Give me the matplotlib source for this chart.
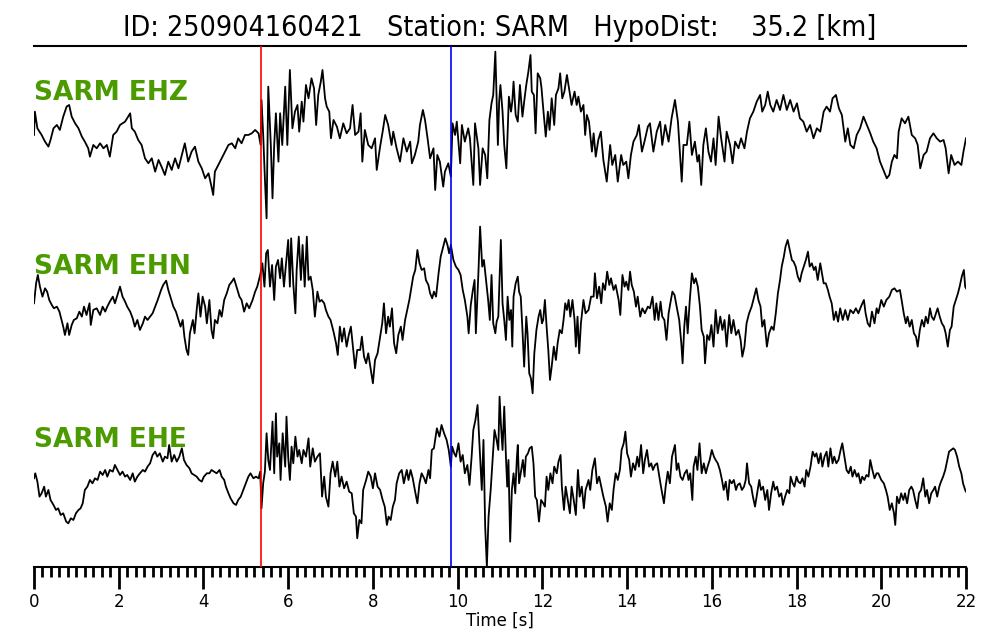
import matplotlib
matplotlib.use("Agg")
import matplotlib.pyplot as plt
from matplotlib.ticker import MultipleLocator

# ---------------- data (time [s], amplitude [counts]) ----------------
event_id = "250904160421"
station = "SARM"
hypo_dist_km = 35.2
channels = ["EHZ", "EHN", "EHE"]
p_pick = 5.35
s_pick = 9.84
t_max = 22

ehz = [(0.00,-20),(0.02,50),(0.08,0),(0.18,-20),(0.26,-40),(0.34,-55),(0.39,-35),(0.46,0),(0.54,10),(0.61,-5),
       (0.69,35),(0.77,65),(0.83,70),(0.89,35),(0.97,15),(1.05,0),(1.13,-25),(1.20,-40),(1.28,-60),(1.32,-85),
       (1.40,-50),(1.48,-60),(1.56,-45),(1.64,-60),(1.72,-50),(1.79,-85),(1.87,-20),(1.95,-10),(2.03,10),(2.15,20),
       (2.27,45),(2.31,0),(2.38,-10),(2.46,-35),(2.54,-50),(2.62,-90),(2.70,-105),(2.78,-90),(2.86,-130),(2.94,-95),
       (3.01,-115),(3.09,-140),(3.17,-100),(3.25,-125),(3.33,-90),(3.41,-120),(3.49,-80),(3.56,-45),(3.64,-100),(3.72,-70),
       (3.80,-55),(3.88,-100),(3.96,-120),(4.04,-150),(4.12,-135),(4.19,-175),(4.23,-200),(4.27,-130),(4.35,-110),(4.43,-90),
       (4.51,-70),(4.59,-50),(4.67,-45),(4.75,-60),(4.82,-30),(4.90,-45),(4.98,-20),(5.06,-20),(5.14,-15),(5.22,-5),
       (5.30,-15),(5.35,-50),(5.37,85),(5.41,-20),(5.45,-150),(5.49,-270),(5.53,125),(5.59,-50),(5.63,-210),(5.67,-50),
       (5.71,45),(5.77,-100),(5.81,45),(5.86,-50),(5.93,125),(5.98,-50),(6.04,175),(6.10,0),(6.16,50),(6.22,70),
       (6.26,-10),(6.32,80),(6.36,20),(6.42,130),(6.48,90),(6.55,150),(6.61,120),(6.66,10),(6.71,100),(6.77,140),
       (6.81,175),(6.87,90),(6.91,65),(6.97,50),(7.01,-30),(7.07,25),(7.15,5),(7.22,-30),(7.30,15),(7.38,-15),
       (7.46,0),(7.52,70),(7.58,-20),(7.66,-10),(7.71,45),(7.75,-100),(7.81,-5),(7.89,-50),(7.97,-60),(8.05,-30),
       (8.09,-125),(8.17,-55),(8.23,-10),(8.29,40),(8.36,10),(8.44,-50),(8.48,-10),(8.56,-60),(8.64,-100),(8.72,-30),
       (8.80,-70),(8.88,-40),(8.92,-105),(8.99,-80),(9.07,-40),(9.11,10),(9.18,55),(9.23,25),(9.29,-30),(9.35,-90),
       (9.43,-60),(9.47,-185),(9.52,-80),(9.58,-100),(9.66,-175),(9.70,-130),(9.78,-105),(9.84,-145),(9.88,15),(9.94,-20),
       (9.98,20),(10.06,-105),(10.10,10),(10.17,-40),(10.25,0),(10.29,-30),(10.37,-170),(10.41,15),(10.49,-60),(10.53,-170),
       (10.59,-60),(10.65,-80),(10.70,-150),(10.75,25),(10.80,75),(10.84,100),(10.89,230),
       (10.95,-50),(10.98,80),(11.01,130),(11.06,50),(11.10,-50),(11.15,-120),(11.18,-10),(11.21,95),(11.26,50),(11.29,80),
       (11.32,140),(11.37,40),(11.42,20),(11.47,130),(11.53,35),(11.58,90),(11.62,130),(11.67,170),(11.72,220),(11.75,110),
       (11.80,100),(11.84,-15),(11.89,165),(11.95,150),(11.98,120),(12.02,60),(12.08,-25),(12.13,50),(12.17,-5),(12.22,90),
       (12.28,10),(12.32,100),(12.38,120),(12.42,165),(12.47,90),(12.52,110),(12.58,160),(12.63,120),(12.69,70),(12.76,110),
       (12.81,70),(12.85,95),(12.91,50),(12.97,70),(13.01,-20),(13.05,40),(13.10,20),(13.17,-70),(13.21,-15),(13.26,-85),
       (13.32,-35),(13.38,-10),(13.44,-95),(13.52,-160),(13.60,-50),(13.65,-110),(13.72,-80),(13.78,-160),(13.86,-80),(13.91,-110),
       (13.98,-100),(14.03,-150),(14.09,-80),(14.15,-40),(14.23,-20),(14.28,10),(14.35,-70),(14.41,-40),(14.49,5),(14.54,15),
       (14.62,-70),(14.70,-10),(14.78,20),(14.83,-50),(14.90,10),(14.98,-40),(15.05,30),(15.13,85),(15.20,20),(15.25,-80),
       (15.29,-160),(15.33,-50),(15.41,-50),(15.47,20),(15.53,-80),(15.60,-40),(15.66,-100),(15.70,-80),(15.75,-170),(15.80,-50),
       (15.86,0),(15.92,-70),(15.98,-100),(16.04,-30),(16.09,-110),(16.16,35),(16.22,-30),(16.30,-100),(16.35,-10),(16.43,-50),
       (16.49,-105),(16.55,-40),(16.63,-60),(16.69,-30),(16.77,-60),(16.83,-10),(16.90,30),(16.98,50),(17.06,80),(17.14,100),
       (17.19,50),(17.26,70),(17.32,110),(17.38,70),(17.45,50),(17.53,85),(17.61,55),(17.69,100),(17.77,55),(17.85,85),
       (17.93,50),(18.01,75),(18.08,30),(18.16,20),(18.24,-10),(18.32,10),(18.40,-30),(18.48,0),(18.56,-10),(18.64,50),
       (18.71,65),(18.79,50),(18.85,90),(18.93,100),(19.00,60),(19.07,40),(19.15,-40),(19.21,0),(19.27,-50),(19.35,-60),
       (19.42,-20),(19.50,0),(19.58,35),(19.66,10),(19.74,-15),(19.81,-40),(19.89,-60),(19.97,-100),(20.05,-125),(20.13,-150),
       (20.19,-140),(20.25,-100),(20.31,-80),(20.37,-90),(20.41,-10),(20.48,30),(20.56,15),(20.64,35),(20.72,-20),(20.80,-30),
       (20.86,-50),(20.92,-120),(21.00,-80),(21.07,-70),(21.15,-30),(21.23,-15),(21.31,-30),(21.39,-40),(21.47,-35),(21.52,-60),
       (21.59,-135),(21.65,-80),(21.73,-110),(21.81,-100),(21.89,-110),(21.94,-70),(22.00,-30)]

ehn = [(0.00,0),(0.05,60),(0.09,85),(0.14,50),(0.20,20),(0.26,45),(0.31,35),(0.36,10),(0.42,-5),(0.47,-15),
       (0.54,-10),(0.60,-25),(0.65,-50),(0.69,-70),(0.73,-95),(0.79,-60),(0.83,-95),(0.89,-65),(0.94,-50),(1.01,-45),
       (1.07,-25),(1.13,-40),(1.18,-10),(1.24,-35),(1.31,0),(1.34,-65),(1.40,-20),(1.48,-15),(1.56,-35),(1.62,-10),
       (1.68,-25),(1.73,-10),(1.79,5),(1.86,20),(1.91,0),(1.97,25),(2.03,50),(2.09,20),(2.15,5),(2.20,-10),
       (2.27,-25),(2.33,-45),(2.38,-70),(2.44,-50),(2.50,-80),(2.57,-60),(2.62,-40),(2.68,-50),(2.74,-40),(2.80,-30),
       (2.86,-10),(2.92,10),(3.00,40),(3.05,55),(3.12,68),(3.17,40),(3.23,15),(3.29,-10),(3.35,-25),(3.41,-50),
       (3.46,-70),(3.51,-50),(3.55,-100),(3.60,-140),(3.64,-155),(3.68,-90),(3.75,-50),(3.79,-90),(3.84,-20),(3.88,30),
       (3.93,-40),(3.98,20),(4.04,-10),(4.08,-60),(4.14,10),(4.19,-80),(4.23,-105),(4.27,-50),(4.33,-60),(4.38,-20),
       (4.43,-40),(4.49,10),(4.55,30),(4.61,55),(4.67,65),(4.72,75),(4.78,50),(4.85,20),(4.90,10),(4.96,-25),
       (5.02,0),(5.08,-15),(5.16,10),(5.22,35),(5.27,50),(5.34,85),(5.39,120),(5.44,50),(5.48,150),(5.52,160),
       (5.57,50),(5.62,115),(5.67,10),(5.71,110),(5.76,130),(5.81,75),(5.85,135),(5.90,50),(5.95,120),(6.00,190),
       (6.04,50),(6.07,195),(6.12,60),(6.17,-30),(6.20,100),(6.25,200),(6.30,70),(6.34,175),(6.39,50),(6.44,200),
       (6.48,70),(6.53,80),(6.58,40),(6.63,-40),(6.69,35),(6.74,5),(6.79,10),(6.85,0),(6.89,-20),(6.95,-40),
       (7.00,-50),(7.07,-85),(7.13,-120),(7.17,-155),(7.22,-70),(7.27,-115),(7.32,-75),(7.38,-130),(7.43,-95),(7.48,-70),
       (7.52,-120),(7.58,-195),(7.63,-140),(7.70,-140),(7.74,-100),(7.79,-160),(7.84,-180),(7.89,-150),(7.95,-200),(8.00,-240),
       (8.05,-170),(8.11,-150),(8.17,-100),(8.22,-60),(8.26,0),(8.31,-90),(8.36,-40),(8.40,-70),(8.45,-15),(8.50,-120),
       (8.55,-150),(8.60,-95),(8.66,-70),(8.70,-110),(8.76,-50),(8.81,-20),(8.86,10),(8.91,50),(8.95,80),(9.00,100),
       (9.05,160),(9.10,120),(9.15,100),(9.21,105),(9.25,70),(9.31,55),(9.35,30),(9.40,15),(9.44,35),(9.49,20),
       (9.55,90),(9.60,140),(9.66,170),(9.71,195),(9.76,175),(9.80,150),(9.84,175),(9.90,130),(9.96,110),(10.02,100),
       (10.07,85),(10.12,40),(10.17,10),(10.23,-40),(10.26,-90),(10.31,-5),(10.36,40),(10.40,70),(10.43,-90),(10.49,90),
       (10.53,230),(10.58,110),(10.62,130),(10.67,70),(10.72,10),(10.76,-50),(10.80,85),(10.84,-60),(10.89,-90),
       (10.92,-55),(10.96,-40),(11.02,190),(11.06,0),(11.10,-50),(11.14,-110),(11.18,20),(11.22,-50),(11.26,-20),(11.29,-130),
       (11.32,20),(11.37,60),(11.42,80),(11.45,35),(11.49,20),(11.53,-80),(11.57,-190),(11.62,-40),(11.65,-90),(11.69,-210),
       (11.73,-225),(11.77,-270),(11.81,-150),(11.86,-80),(11.91,-40),(11.95,-20),(11.99,-60),(12.02,-50),(12.06,10),(12.10,-70),
       (12.14,-140),(12.18,-230),(12.22,-190),(12.27,-130),(12.32,-170),(12.36,-120),(12.41,-80),(12.46,-90),(12.50,-50),(12.54,0),
       (12.58,-20),(12.62,10),(12.66,-40),(12.71,10),(12.76,-50),(12.79,-130),(12.83,-40),(12.87,-150),(12.91,-60),(12.97,10),
       (13.02,-30),(13.09,-20),(13.15,20),(13.21,20),(13.24,90),(13.29,15),(13.34,50),(13.39,0),(13.43,60),(13.48,40),
       (13.53,95),(13.58,55),(13.62,75),(13.68,40),(13.73,55),(13.80,10),(13.84,-35),(13.89,85),(13.94,50),(13.98,65),
       (14.03,40),(14.07,95),(14.11,55),(14.16,35),(14.21,-10),(14.25,20),(14.31,-40),(14.36,-15),(14.42,-30),(14.49,-10),
       (14.54,-15),(14.60,20),(14.65,-50),(14.69,0),(14.74,-50),(14.79,5),(14.83,-40),(14.88,-50),(14.93,-110),(14.98,-30),
       (15.02,0),(15.07,35),(15.12,25),(15.17,-10),(15.23,-50),(15.28,-120),(15.31,-180),(15.35,-70),(15.39,-10),(15.43,-90),
       (15.48,10),(15.53,90),(15.58,60),(15.62,75),(15.67,50),(15.72,-10),(15.76,-80),(15.81,-100),(15.84,-180),(15.89,-95),
       (15.94,-110),(15.99,-65),(16.04,-130),(16.09,-20),(16.14,-90),(16.20,-40),(16.25,-80),(16.30,-50),(16.35,-130),(16.41,-35),
       (16.46,-90),(16.51,-50),(16.57,-95),(16.63,-80),(16.68,-110),(16.72,-160),(16.77,-130),(16.82,-60),(16.88,-30),(16.94,-10),
       (17.00,20),(17.05,45),(17.10,10),(17.15,-10),(17.19,-70),(17.24,-50),(17.30,-130),(17.35,-90),(17.41,-70),(17.46,-80),
       (17.51,-30),(17.56,30),(17.61,70),(17.65,110),(17.70,140),(17.74,170),(17.79,190),(17.84,160),(17.89,130),(17.93,125),
       (17.98,110),(18.03,80),(18.08,65),(18.12,90),(18.17,110),(18.22,130),(18.27,155),(18.31,110),(18.36,120),(18.41,100),
       (18.45,110),(18.50,70),(18.56,120),(18.60,90),(18.64,60),(18.69,60),(18.74,40),(18.78,20),(18.83,0),(18.88,-50),
       (18.93,-25),(18.98,-55),(19.03,-15),(19.09,-50),(19.15,-20),(19.21,-50),(19.27,-20),(19.34,-30),(19.40,-15),(19.46,-30),
       (19.52,-10),(19.59,10),(19.63,-30),(19.68,-60),(19.73,-70),(19.78,-25),(19.84,-60),(19.89,-15),(19.93,-30),(20.00,10),
       (20.06,-10),(20.12,10),(20.19,20),(20.25,40),(20.31,45),(20.37,35),(20.44,40),(20.48,10),(20.53,-30),(20.58,-60),
       (20.62,-40),(20.67,-70),(20.72,-50),(20.77,-90),(20.82,-100),(20.86,-130),(20.91,-80),(20.96,-50),(21.01,-70),(21.05,-40),
       (21.10,-60),(21.15,-15),(21.19,-40),(21.24,-50),(21.29,-30),(21.33,-15),(21.38,-40),(21.43,-60),(21.48,-70),(21.52,-90),
       (21.57,-130),(21.62,-80),(21.66,-70),(21.71,-10),(21.76,10),(21.81,30),(21.85,50),(21.90,80),(21.95,100),(21.98,50),
       (22.00,45)]

ehe = [(0.00,-15),(0.03,0),(0.08,-25),(0.13,-70),(0.18,-60),(0.24,-40),(0.28,-70),(0.34,-50),(0.39,-80),(0.46,-95),
       (0.52,-110),(0.57,-105),(0.63,-125),(0.69,-120),(0.76,-145),(0.81,-150),(0.87,-135),(0.93,-140),(0.99,-120),(1.05,-110),
       (1.10,-105),(1.15,-90),(1.20,-50),(1.26,-40),(1.32,-20),(1.38,-30),(1.44,-15),(1.50,-20),(1.56,5),(1.62,-5),
       (1.68,10),(1.73,-10),(1.79,10),(1.86,5),(1.91,25),(1.97,10),(2.03,-5),(2.09,5),(2.15,-10),(2.20,-5),
       (2.27,-20),(2.33,0),(2.38,-25),(2.44,-10),(2.50,0),(2.57,10),(2.62,5),(2.68,20),(2.74,30),(2.80,55),
       (2.86,65),(2.91,50),(2.97,60),(3.04,35),(3.09,50),(3.15,45),(3.19,85),(3.25,35),(3.31,55),(3.37,35),
       (3.43,50),(3.49,75),(3.54,40),(3.60,25),(3.67,15),(3.72,0),(3.78,-5),(3.84,-10),(3.90,-20),(3.96,-25),
       (4.01,-10),(4.08,0),(4.14,0),(4.19,10),(4.25,5),(4.31,0),(4.38,10),(4.43,-10),(4.49,-20),(4.53,-40),
       (4.59,-60),(4.64,-75),(4.71,-90),(4.77,-95),(4.82,-80),(4.88,-70),(4.94,-50),(5.00,-30),(5.06,-10),(5.11,0),
       (5.18,-15),(5.24,-10),(5.30,-15),(5.34,5),(5.37,-105),(5.41,-30),(5.45,5),(5.49,120),(5.53,40),(5.57,10),
       (5.63,155),(5.67,0),(5.71,180),(5.74,50),(5.79,90),(5.82,-20),(5.87,120),(5.93,20),(5.96,170),(6.00,50),
       (6.04,-20),(6.08,80),(6.12,30),(6.17,110),(6.22,50),(6.26,70),(6.32,30),(6.36,70),(6.42,50),(6.48,105),
       (6.52,20),(6.58,75),(6.63,35),(6.69,50),(6.75,60),(6.80,-70),(6.85,-10),(6.89,-70),(6.95,-100),(7.00,0),
       (7.05,35),(7.11,-10),(7.16,35),(7.21,-40),(7.26,-10),(7.32,-45),(7.38,-25),(7.44,-55),(7.50,-60),(7.55,-120),
       (7.60,-130),(7.63,-195),(7.68,-140),(7.73,-150),(7.77,-50),(7.84,-20),(7.89,5),(7.95,-10),(8.00,-45),(8.05,0),
       (8.11,-40),(8.17,-50),(8.23,-80),(8.28,-100),(8.33,-155),(8.37,-130),(8.42,-140),(8.47,-100),(8.52,-80),(8.56,-30),
       (8.62,0),(8.68,10),(8.73,-30),(8.80,10),(8.84,-20),(8.89,10),(8.94,-15),(8.99,-50),(9.05,-90),(9.10,-30),
       (9.15,0),(9.21,-15),(9.25,-30),(9.31,10),(9.35,-15),(9.39,70),(9.44,75),(9.51,135),(9.57,110),(9.62,145),
       (9.68,120),(9.74,100),(9.79,70),(9.84,20),(9.87,80),(9.92,60),(9.96,50),(10.02,90),(10.07,35),(10.12,55),
       (10.17,0),(10.23,25),(10.28,-35),(10.33,50),(10.37,130),(10.42,160),(10.47,205),(10.51,100),(10.57,-50),(10.61,100),
       (10.65,-160),(10.69,-280),(10.73,-130),(10.78,-50),(10.83,50),(10.87,130),
       (10.92,100),(10.96,70),(10.99,230),(11.02,150),(11.06,70),(11.10,200),(11.14,50),(11.17,-40),(11.20,40),(11.24,-205),
       (11.28,-50),(11.32,0),(11.36,-60),(11.40,50),(11.42,85),(11.45,-30),(11.50,10),(11.54,40),(11.58,-10),(11.61,50),
       (11.66,60),(11.70,75),(11.75,80),(11.79,30),(11.83,-70),(11.87,-80),(11.92,-145),(11.97,-80),(12.02,-90),(12.06,-100),
       (12.10,-10),(12.14,-50),(12.19,0),(12.24,-30),(12.28,20),(12.34,0),(12.38,35),(12.43,55),(12.46,-40),(12.51,-110),
       (12.55,-40),(12.60,-80),(12.65,-120),(12.69,-40),(12.74,-80),(12.79,-125),(12.84,10),(12.88,-70),(12.93,-40),(12.98,-105),
       (13.02,-50),(13.09,-20),(13.13,-50),(13.18,10),(13.24,45),(13.29,-30),(13.34,-10),(13.39,-40),(13.44,-70),(13.50,-100),
       (13.54,-145),(13.59,-90),(13.64,-110),(13.68,-50),(13.73,0),(13.78,-20),(13.83,10),(13.87,70),(13.92,90),(13.96,125),
       (14.00,60),(14.05,40),(14.09,-10),(14.14,30),(14.19,10),(14.24,50),(14.28,20),(14.33,85),(14.38,0),(14.42,40),
       (14.47,70),(14.52,20),(14.57,30),(14.61,10),(14.66,25),(14.71,30),(14.76,-10),(14.80,-40),(14.87,-90),(14.91,-40),
       (14.96,5),(15.01,-30),(15.06,50),(15.10,70),(15.13,85),(15.17,10),(15.21,30),(15.26,-10),(15.31,-20),(15.36,0),
       (15.41,10),(15.45,-20),(15.49,0),(15.54,-80),(15.57,20),(15.62,50),(15.66,10),(15.71,90),(15.76,0),(15.81,30),
       (15.86,0),(15.90,20),(15.95,40),(16.00,70),(16.05,50),(16.09,40),(16.14,30),(16.19,10),(16.24,-20),(16.28,-50),
       (16.33,-25),(16.38,-80),(16.42,-20),(16.47,-30),(16.52,-20),(16.57,-50),(16.61,-35),(16.66,-30),(16.71,-50),(16.76,-40),
       (16.80,-20),(16.83,30),(16.88,-30),(16.93,-40),(16.97,-70),(17.02,-100),(17.07,-60),(17.12,-20),(17.16,-50),(17.21,-40),
       (17.26,-80),(17.31,-50),(17.35,-110),(17.40,-60),(17.45,-25),(17.49,-50),(17.54,-40),(17.59,-70),(17.64,-60),(17.68,-95),
       (17.73,-70),(17.78,-50),(17.83,-60),(17.86,-10),(17.91,-30),(17.95,-40),(18.00,-10),(18.04,-25),(18.09,-30),(18.14,-15),
       (18.19,-40),(18.23,10),(18.28,-10),(18.33,20),(18.38,65),(18.43,50),(18.47,60),(18.52,30),(18.57,60),(18.61,20),
       (18.66,50),(18.71,65),(18.75,20),(18.80,75),(18.85,30),(18.89,50),(18.94,30),(18.99,40),(19.04,70),(19.08,90),
       (19.13,50),(19.18,10),(19.23,0),(19.28,20),(19.32,-10),(19.37,10),(19.42,-10),(19.46,0),(19.51,-30),(19.55,-10),
       (19.60,-20),(19.65,-5),(19.70,-10),(19.74,40),(19.79,10),(19.84,-15),(19.89,0),(19.93,0),(20.00,-20),(20.06,-30),
       (20.11,-50),(20.15,-70),(20.20,-110),(20.25,-90),(20.30,-120),(20.33,-155),(20.37,-70),(20.42,-90),(20.47,-60),(20.52,-80),
       (20.56,-60),(20.61,-90),(20.66,-50),(20.71,-40),(20.75,-50),(20.80,-80),(20.85,-105),(20.89,-60),(20.94,-50),(20.99,-15),
       (21.04,-70),(21.08,-50),(21.13,-90),(21.18,-60),(21.23,-50),(21.27,-40),(21.32,-70),(21.37,-40),(21.41,-25),(21.46,-10),
       (21.51,10),(21.56,40),(21.60,65),(21.65,70),(21.70,75),(21.74,70),(21.79,50),(21.84,20),(21.89,0),(21.93,-30),
       (21.98,-50),(22.00,-55)]

traces = [ehz, ehn, ehe]

# ---------------- layout / style ----------------
trace_offsets = [438.7, 263.7, 93.7]   # vertical placement of each trace
label_offsets = [467, 293, 120]
gain = 1 / 3.0
label_color = "#4a9a00"

fig = plt.figure(figsize=(10, 6.4), dpi=100)
ax = fig.add_axes([0.034, 1 - 567 / 640, 0.932, (567 - 46) / 640])

for tr, off, lab_y, ch in zip(traces, trace_offsets, label_offsets, channels):
    ts = [p[0] for p in tr]
    ys = [off + p[1] * gain for p in tr]
    ax.plot(ts, ys, color="black", lw=1.3, zorder=2)
    ax.text(0, lab_y, f"{station} {ch}", color=label_color, fontsize=19,
            fontweight="bold", ha="left", va="baseline", zorder=4)

ax.axvline(p_pick, color="red", lw=1.2, zorder=3)
ax.axvline(s_pick, color="blue", lw=1.2, zorder=3)

ax.set_xlim(0, t_max)
ax.set_ylim(0, 521)
ax.set_yticks([])
for s in ("left", "right"):
    ax.spines[s].set_visible(False)
for s in ("top", "bottom"):
    ax.spines[s].set_linewidth(1.5)

ax.xaxis.set_major_locator(MultipleLocator(2))
ax.xaxis.set_minor_locator(MultipleLocator(0.2))
ax.tick_params(axis="x", which="major", length=16, width=2, direction="out",
               labelsize=12, pad=3)
ax.tick_params(axis="x", which="minor", length=7, width=2, direction="out")
ax.set_xlabel("Time [s]", fontsize=12, labelpad=0)

title = f"ID: {event_id}   Station: {station}   HypoDist:    {hypo_dist_km:.1f} [km]"
fig.text(0.5, 1 - 36 / 640, title, ha="center", va="baseline", fontsize=20.5,
         fontfamily="DejaVu Sans", fontstretch="condensed")

fig.savefig("out.png", dpi=100)
